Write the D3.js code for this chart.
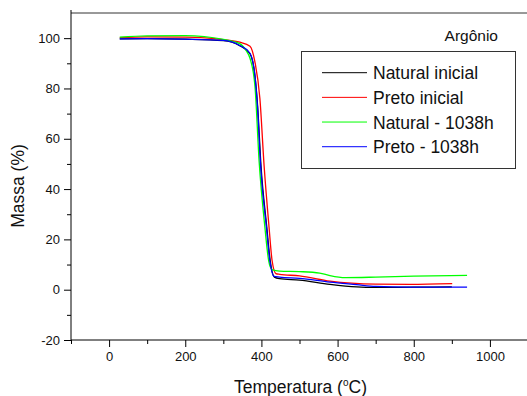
<!DOCTYPE html>
<html>
<head>
<meta charset="utf-8">
<script src="https://cdn.jsdelivr.net/npm/d3@7"></script>
<style>
    body { margin: 0; background: #fff; }
    svg { display: block; font-family: "Liberation Sans", Arial, sans-serif; }
</style>
</head>
<body>
<script>
// curvas TGA: [temperatura (C), massa (%)]
var natural_inicial = [
    [28, 99.7], [100, 99.8], [200, 99.6], [300, 99.0], [343, 97.0], [370, 93.8], [383, 85],
    [390, 73], [399, 49], [414, 25], [423, 11.6], [434, 5.0], [448, 4.4], [500, 3.8],
    [580, 2.1], [650, 1.1], [700, 0.9], [800, 1.0], [900, 1.1]
];
var preto_inicial = [
    [28, 100.2], [100, 100.5], [200, 100.4], [300, 99.4], [343, 98.4], [370, 96.8], [383, 90.5],
    [396, 76], [407, 49.4], [420, 24.9], [428, 11.6], [438, 6.4], [448, 6.1], [500, 5.5],
    [580, 3.4], [700, 2.2], [790, 2.1], [901, 2.4]
];
var natural_1038h = [
    [28, 100.4], [100, 100.9], [200, 101.0], [300, 99.5], [343, 97.8], [360, 95.0], [370, 92],
    [383, 81], [394, 51], [409, 25], [419, 11.6], [428, 8.0], [448, 7.4], [500, 7.2],
    [553, 6.6], [580, 5.6], [620, 4.8], [700, 5.0], [800, 5.4], [940, 5.7]
];
var preto_1038h = [
    [28, 99.7], [100, 99.8], [200, 99.6], [300, 99.1], [343, 97.1], [370, 94], [383, 85],
    [390, 72], [398, 49], [413, 25], [422, 11.6], [433, 5.3], [448, 5.0], [500, 4.5],
    [580, 3.0], [650, 2.0], [700, 1.3], [790, 1.0], [940, 1.0]
];

var series_names = ["Natural inicial", "Preto inicial", "Natural - 1038h", "Preto - 1038h"];
var series_colors = ["#000000", "#ff0000", "#00ff00", "#0000ff"];
var series_data = [natural_inicial, preto_inicial, natural_1038h, preto_1038h];

var x_major = [0, 200, 400, 600, 800, 1000];
var x_minor = [-100, 100, 300, 500, 700, 900];
var y_major = [-20, 0, 20, 40, 60, 80, 100];
var y_minor = [-10, 10, 30, 50, 70, 90];

var width = 527;
var height = 396;

// rótulos com hífen simples, como no original
function fmt(d) { return String(d); }

var svg = d3.select("body").append("svg")
    .attr("width", width)
    .attr("height", height);

// escalas
var x = d3.scaleLinear().domain([-100, 1100]).range([71, 528]);
var y = d3.scaleLinear().domain([-20, 110]).range([340, 13]);

// moldura superior
svg.append("line")
    .attr("x1", x(-100)).attr("x2", x(1100))
    .attr("y1", y(110)).attr("y2", y(110))
    .style("stroke", "#333").style("stroke-width", 1);

// eixo x
svg.append("g")
    .attr("transform", "translate(0," + y(-20) + ")")
    .call(d3.axisBottom(x).tickValues(x_major).tickSize(7).tickPadding(5).tickFormat(fmt));
svg.append("g")
    .attr("transform", "translate(0," + y(-20) + ")")
    .call(d3.axisBottom(x).tickValues(x_minor).tickSize(4).tickFormat(""));

// eixo y
svg.append("g")
    .attr("transform", "translate(" + x(-100) + ",0)")
    .call(d3.axisLeft(y).tickValues(y_major).tickSize(7).tickPadding(4).tickFormat(fmt));
svg.append("g")
    .attr("transform", "translate(" + x(-100) + ",0)")
    .call(d3.axisLeft(y).tickValues(y_minor).tickSize(4).tickFormat(""));

svg.selectAll(".domain").remove();
svg.append("line")
    .attr("x1", x(-100)).attr("x2", x(1100))
    .attr("y1", y(-20)).attr("y2", y(-20))
    .style("stroke", "#000").style("stroke-width", 1);
svg.append("line")
    .attr("x1", x(-100)).attr("x2", x(-100))
    .attr("y1", y(110) - 3).attr("y2", y(-20))
    .style("stroke", "#000").style("stroke-width", 1);

svg.selectAll(".tick text")
    .style("font-size", "13px")
    .style("font-family", "'Liberation Sans', Arial, sans-serif")
    .style("fill", "#111");
svg.selectAll(".tick line").style("stroke", "#000");

// curvas
var line = d3.line()
    .x(function(d) { return x(d[0]); })
    .y(function(d) { return y(d[1]); })
    .curve(d3.curveMonotoneX);

for (var i = 0; i < series_data.length; i++) {
    svg.append("path")
        .datum(series_data[i])
        .attr("d", line)
        .style("fill", "none")
        .style("stroke", series_colors[i])
        .style("stroke-width", "1.3px");
}

// títulos dos eixos
var xt = svg.append("text")
    .attr("x", 300.5)
    .attr("y", 392.5)
    .attr("text-anchor", "middle")
    .style("font-size", "17.5px")
    .style("fill", "#111");
xt.append("tspan").text("Temperatura (");
xt.append("tspan").attr("dy", -7).style("font-size", "10px").text("o");
xt.append("tspan").attr("dy", 7).text("C)");

svg.append("text")
    .attr("transform", "translate(24,186) rotate(-90)")
    .attr("text-anchor", "middle")
    .style("font-size", "17.5px")
    .style("fill", "#111")
    .text("Massa (%)");

// Argônio
svg.append("text")
    .attr("x", 498)
    .attr("y", 40.7)
    .attr("text-anchor", "end")
    .style("font-size", "15.5px")
    .style("fill", "#111")
    .text("Argônio");

// legenda
var legend = svg.append("g");
legend.append("rect")
    .attr("x", 301.5).attr("y", 51.5)
    .attr("width", 214).attr("height", 117)
    .style("fill", "#fff")
    .style("stroke", "#333")
    .style("stroke-width", 1);

for (var j = 0; j < series_names.length; j++) {
    var ly = 72.7 + j * 24.67;
    legend.append("line")
        .attr("x1", 322).attr("x2", 367)
        .attr("y1", ly).attr("y2", ly)
        .style("stroke", series_colors[j])
        .style("stroke-width", 1);
    legend.append("text")
        .attr("x", 373)
        .attr("y", ly + 6.6)
        .style("font-size", "17.5px")
        .style("fill", "#111")
        .text(series_names[j]);
}
</script>
</body>
</html>
